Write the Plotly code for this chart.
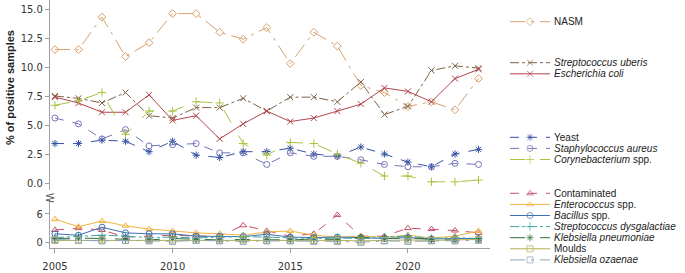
import plotly.graph_objects as go

years = list(range(2005, 2024))

# ---- upper panel series (% of positive samples) ----
nasm = [11.5, 11.5, 14.3, 10.9, 12.1, 14.6, 14.6, 13.0, 12.4, 13.4, 10.3, 13.0, 11.8, 8.4, 7.8, 6.6, 7.0, 6.3, 9.0]
strep_uberis = [7.5, 7.3, 6.9, 7.8, 5.8, 5.6, 6.5, 6.5, 7.3, 6.2, 7.4, 7.4, 7.0, 8.7, 5.9, 6.6, 9.7, 10.1, 9.9]
e_coli = [7.4, 6.9, 6.1, 6.1, 7.6, 5.4, 5.8, 3.8, 5.1, 6.2, 5.3, 5.6, 6.2, 6.8, 8.2, 7.9, 7.0, 9.0, 9.8]
yeast = [3.4, 3.4, 3.7, 3.6, 2.7, 3.6, 2.4, 2.2, 2.7, 2.7, 3.0, 2.5, 2.3, 3.1, 2.5, 1.8, 1.4, 2.5, 2.9]
staph_aureus = [5.6, 5.1, 3.8, 4.6, 3.2, 3.3, 3.4, 2.6, 2.6, 1.6, 2.6, 2.3, 2.3, 2.0, 1.6, 1.4, 1.4, 1.7, 1.6]
corynebacterium = [6.7, 7.1, 7.8, 4.2, 6.2, 6.2, 7.0, 6.9, 3.4, 2.4, 3.5, 3.4, 2.5, 1.7, 0.6, 0.6, 0.1, 0.1, 0.25]

# ---- lower panel series ----
contaminated = [2.6, 3.0, 2.6, 1.1, 1.3, 1.5, 1.3, 1.3, 3.6, 2.4, 1.3, 1.8, 5.8, 1.3, 1.3, 3.0, 2.8, 2.5, 2.0]
enterococcus = [4.9, 3.3, 4.5, 3.5, 2.8, 2.4, 2.0, 1.8, 1.5, 2.2, 2.4, 1.5, 1.1, 1.3, 1.1, 1.5, 0.9, 1.3, 2.4]
bacillus = [1.8, 1.5, 3.2, 2.0, 1.8, 1.8, 1.3, 1.3, 1.2, 1.7, 1.1, 1.0, 1.1, 1.0, 0.8, 1.0, 0.7, 0.8, 0.8]
strep_dysgalactiae = [1.0, 1.3, 1.5, 1.3, 1.0, 1.1, 0.9, 1.1, 1.2, 1.1, 0.9, 0.8, 0.9, 0.8, 1.1, 1.3, 0.8, 1.0, 0.8]
k_pneumoniae = [0.8, 0.9, 0.8, 0.7, 0.5, 0.8, 0.6, 0.5, 0.6, 0.6, 0.5, 0.7, 0.6, 1.0, 0.8, 0.9, 0.6, 0.5, 0.7]
moulds = [0.4, 0.4, 0.5, 0.4, 0.5, 0.5, 0.4, 0.4, 0.5, 0.4, 0.4, 0.4, 0.4, 0.3, 0.4, 0.5, 0.4, 0.5, 0.6]
k_ozaenae = [0.6, 0.5, 0.3, 0.4, 0.3, 0.2, 0.4, 0.3, 0.2, 0.3, 0.3, 0.2, 0.2, 0.0, 0.3, 0.2, 0.3, 0.3, 0.4]

upper_ticks = [0.0, 2.5, 5.0, 7.5, 10.0, 12.5, 15.0]
lower_ticks = [0, 6]
x_ticks = [2005, 2010, 2015, 2020]

# legend label, data, panel
series = [
    ("NASM", nasm, 1),
    ("<i>Streptococcus uberis</i>", strep_uberis, 1),
    ("<i>Escherichia coli</i>", e_coli, 1),
    ("Yeast", yeast, 1),
    ("<i>Staphylococcus aureus</i>", staph_aureus, 1),
    ("<i>Corynebacterium</i> spp.", corynebacterium, 1),
    ("Contaminated", contaminated, 2),
    ("<i>Enterococcus</i> spp.", enterococcus, 2),
    ("<i>Bacillus</i> spp.", bacillus, 2),
    ("<i>Streptococcus dysgalactiae</i>", strep_dysgalactiae, 2),
    ("<i>Klebsiella pneumoniae</i>", k_pneumoniae, 2),
    ("Moulds", moulds, 2),
    ("<i>Klebsiella ozaenae</i>", k_ozaenae, 2),
]

# styles: colour, dash, symbol
styles = [
    ("#d8a06a", "longdashdot", "diamond-open"),
    ("#7f6246", "dashdot", "x-thin-open"),
    ("#b2454d", "solid", "x-thin-open"),
    ("#3452a4", "dash", "asterisk-open"),
    ("#7474b8", "dash", "circle-open"),
    ("#a9c23f", "longdash", "cross-thin-open"),
    ("#c4506a", "dash", "triangle-up-open"),
    ("#f0b443", "solid", "triangle-up-open"),
    ("#3f6fb4", "solid", "circle-open"),
    ("#3fa6a8", "dashdot", "cross-thin-open"),
    ("#2f6d3c", "longdash", "asterisk-open"),
    ("#b3b04c", "solid", "square-open"),
    ("#8ea4bc", "longdashdot", "square-open"),
]

# legend layout (pixel coordinates of legend area)
legend_groups = [1, 2, 3, 7]
group_top = [21.7, 62.7, 137.3, 193.3]
row_gap = 11.1

W, H = 685, 273
ML = 50
plot_w = W - ML
x_dom_end = (490 - ML) / plot_w

fig = go.Figure()

for (name, vals, panel), (col, dash, sym) in zip(series, styles):
    ax = "" if panel == 1 else "2"
    fig.add_trace(go.Scatter(
        x=years, y=vals, mode="lines+markers", name=name,
        xaxis="x" + ax, yaxis="y" + ax,
        line=dict(color=col, width=1, dash=dash),
        marker=dict(symbol=sym, size=6, color=col, line=dict(color=col, width=1)),
        showlegend=False,
    ))

# custom compact legend
rows = []
for g, n in enumerate(legend_groups):
    for i in range(n):
        rows.append(group_top[g] + i * row_gap)

annotations = []
for (name, vals, panel), (col, dash, sym), ry in zip(series, styles, rows):
    fig.add_trace(go.Scatter(
        x=[510, 530, 550], y=[ry, ry, ry], xaxis="x3", yaxis="y3",
        mode="lines+markers", showlegend=False, hoverinfo="skip",
        line=dict(color=col, width=1, dash=dash),
        marker=dict(symbol=sym, size=[0, 6, 0], color=col, line=dict(color=col, width=1)),
    ))
    annotations.append(dict(
        x=552, y=ry, xref="x3", yref="y3", text=name, showarrow=False,
        xanchor="left", yanchor="middle",
        font=dict(family="Liberation Sans, Arial, sans-serif", size=10, color="#222"),
    ))

annotations.append(dict(
    x=(10 - ML) / plot_w, y=(H - 88) / H, xref="paper", yref="paper",
    text="<b>% of positive samples</b>", textangle=-90, showarrow=False,
    xanchor="center", yanchor="middle",
    font=dict(family="Liberation Sans, Arial, sans-serif", size=11, color="#222"),
))
annotations.append(dict(
    x=0, y=(H - 198) / H, xref="paper", yref="paper", text="W", textangle=90,
    showarrow=False, xanchor="center", yanchor="middle",
    font=dict(family="DejaVu Sans Condensed, DejaVu Sans, sans-serif", size=11, color="#555"),
))

tickfont = dict(family="DejaVu Sans Condensed, DejaVu Sans, sans-serif", size=11, color="#333")
xrange = [2005 - 5 / 23.8, 2005 + 440 / 23.8]

fig.update_layout(
    width=W, height=H,
    margin=dict(l=ML, r=0, t=0, b=0),
    paper_bgcolor="white", plot_bgcolor="rgba(0,0,0,0)",
    showlegend=False,
    xaxis=dict(domain=[0, x_dom_end], anchor="y", range=xrange, showticklabels=False,
               showline=False, showgrid=False, zeroline=False, ticks="", matches="x2"),
    yaxis=dict(domain=[(H - 190) / H, 1], anchor="x", range=[(183 - 190) / 11.6, 183 / 11.6],
               tickvals=upper_ticks, ticktext=[f"{v:.1f}" for v in upper_ticks],
               showline=True, linecolor="#a0a0a0", linewidth=1, ticks="outside",
               ticklen=4, tickcolor="#a0a0a0", showgrid=False, zeroline=False,
               tickfont=tickfont),
    xaxis2=dict(domain=[0, x_dom_end], anchor="y2", range=xrange, tickvals=x_ticks,
                showline=True, linecolor="#a0a0a0", linewidth=1, ticks="outside",
                ticklen=4, tickcolor="#a0a0a0", showgrid=False, zeroline=False,
                tickfont=tickfont, ticklabelstandoff=4),
    yaxis2=dict(domain=[(H - 248) / H, (H - 200) / H], anchor="x2",
                range=[(242.3 - 248) / 4.72, (242.3 - 200) / 4.72], tickvals=lower_ticks,
                showline=True, linecolor="#a0a0a0", linewidth=1, ticks="outside",
                ticklen=4, tickcolor="#a0a0a0", showgrid=False, zeroline=False,
                tickfont=tickfont),
    xaxis3=dict(domain=[(500 - ML) / plot_w, 1], anchor="y3", range=[500, W], visible=False,
                fixedrange=True),
    yaxis3=dict(domain=[0, 1], anchor="x3", range=[H, 0], visible=False, fixedrange=True),
    annotations=annotations,
)

fig.write_html("out.html", config={"displayModeBar": False},
               post_script="document.body.style.margin='0px';")
